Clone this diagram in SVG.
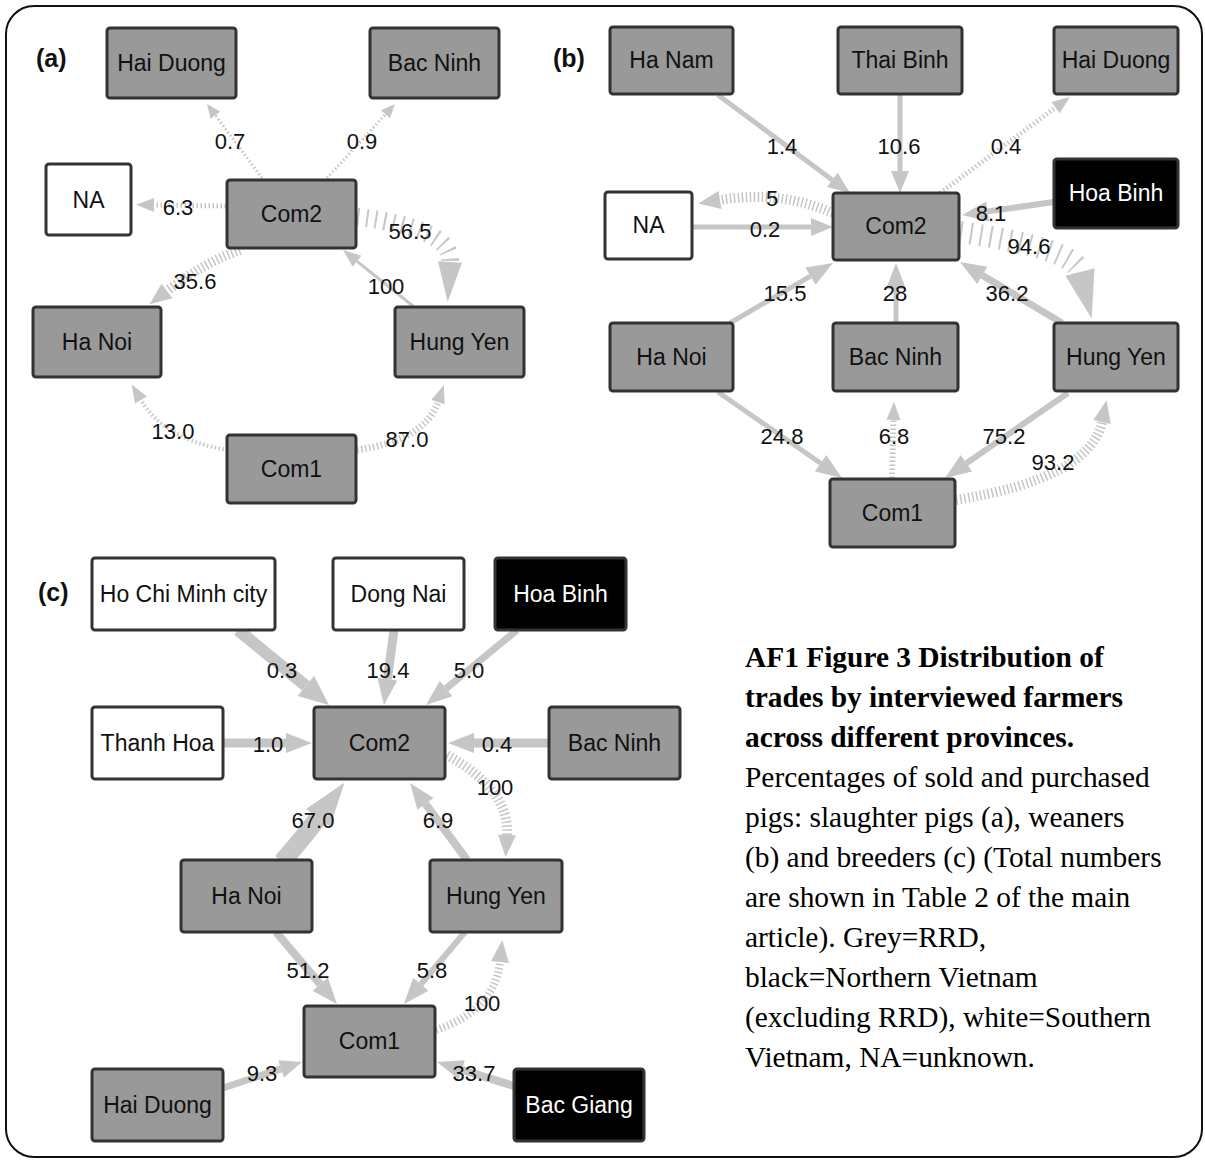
<svg xmlns="http://www.w3.org/2000/svg" width="1205" height="1160" viewBox="0 0 1205 1160">
<style>
.n{stroke:#333;stroke-width:3}
.g{fill:#999}
.w{fill:#fff}
.k{fill:#000}
.t{font-family:"Liberation Sans",Arial,sans-serif;font-size:23px;text-anchor:middle;fill:#111}
.tw{fill:#fff}
.l{font-family:"Liberation Sans",Arial,sans-serif;font-size:22px;text-anchor:middle;fill:#111}
.p{font-family:"Liberation Sans",Arial,sans-serif;font-size:25px;font-weight:bold;fill:#111}
.e{stroke:#c6c6c6;fill:none}
.h{stroke:#c6c6c6;fill:none;stroke-dasharray:1.5 2.5}
.cap{font-family:"Liberation Serif","Times New Roman",serif;font-size:29.4px;fill:#000}
.b{font-weight:bold}
</style>
<defs>
<marker id="m14" markerUnits="userSpaceOnUse" orient="auto" refX="0" refY="0" markerWidth="20" markerHeight="20" overflow="visible"><path d="M0,-6 L14,0 L0,6 Z" fill="#c6c6c6"/></marker>
<marker id="m18" markerUnits="userSpaceOnUse" orient="auto" refX="0" refY="0" markerWidth="20" markerHeight="20" overflow="visible"><path d="M0,-7 L18,0 L0,7 Z" fill="#c6c6c6"/></marker>
<marker id="m22" markerUnits="userSpaceOnUse" orient="auto" refX="0" refY="0" markerWidth="20" markerHeight="20" overflow="visible"><path d="M0,-9 L22,0 L0,9 Z" fill="#c6c6c6"/></marker>
<marker id="m26" markerUnits="userSpaceOnUse" orient="auto" refX="0" refY="0" markerWidth="20" markerHeight="20" overflow="visible"><path d="M0,-10 L26,0 L0,10 Z" fill="#c6c6c6"/></marker>
<marker id="m30" markerUnits="userSpaceOnUse" orient="auto" refX="0" refY="0" markerWidth="20" markerHeight="20" overflow="visible"><path d="M0,-13 L30,0 L0,13 Z" fill="#c6c6c6"/></marker>
<marker id="m40" markerUnits="userSpaceOnUse" orient="auto" refX="0" refY="0" markerWidth="20" markerHeight="20" overflow="visible"><path d="M0,-12 L40,0 L0,12 Z" fill="#c6c6c6"/></marker>
<marker id="m44" markerUnits="userSpaceOnUse" orient="auto" refX="0" refY="0" markerWidth="20" markerHeight="20" overflow="visible"><path d="M0,-15 L44,0 L0,15 Z" fill="#c6c6c6"/></marker>
<marker id="m48" markerUnits="userSpaceOnUse" orient="auto" refX="0" refY="0" markerWidth="20" markerHeight="20" overflow="visible"><path d="M0,-15 L48,0 L0,15 Z" fill="#c6c6c6"/></marker>
</defs>
<rect x="6" y="6" width="1196" height="1151" rx="28" fill="#fff" stroke="#111" stroke-width="2"/>

<g id="connectors">
<!-- panel a -->
<path class="h" stroke-width="3" d="M262,178 L215.4,115.2" marker-end="url(#m14)"/>
<path class="h" stroke-width="3" d="M327,178 L385.5,114.3" marker-end="url(#m14)"/>
<path class="h" stroke-width="5" d="M226,206 L154,205" marker-end="url(#m18)"/>
<path class="h" stroke-width="18" style="stroke-dasharray:2 7" d="M357,217 Q452,228 450,262" marker-end="url(#m40)"/>
<path class="e" stroke-width="3" d="M413,306 L357.1,261.3" marker-end="url(#m18)"/>
<path class="h" stroke-width="10" d="M240,250 Q205,262 167,291" marker-end="url(#m22)"/>
<path class="h" stroke-width="4" d="M228,450 Q165,440 141,400" marker-end="url(#m18)"/>
<path class="h" stroke-width="7" d="M357,450 Q425,440 438,402" marker-end="url(#m18)"/>
<!-- panel b -->
<path class="e" stroke-width="5" d="M718,95 L832.3,179.9" marker-end="url(#m22)"/>
<path class="e" stroke-width="5" d="M900,95 L900,171" marker-end="url(#m22)"/>
<path class="h" stroke-width="5" d="M940,193 L1055.5,107.7" marker-end="url(#m18)"/>
<path class="h" stroke-width="10" d="M833,213 Q780,190 720,200" marker-end="url(#m22)"/>
<path class="e" stroke-width="5" d="M692,227 L811,227" marker-end="url(#m22)"/>
<path class="e" stroke-width="6" d="M1054,202 L987.7,211.4" marker-end="url(#m26)"/>
<path class="h" stroke-width="22" style="stroke-dasharray:2 8" d="M960,232 Q1074,248 1080,272" marker-end="url(#m48)"/>
<path class="e" stroke-width="7" d="M1062,323 L982.3,275.3" marker-end="url(#m26)"/>
<path class="e" stroke-width="5" d="M730,323 L810.5,276.1" marker-end="url(#m26)"/>
<path class="e" stroke-width="5" d="M896,323 L896,289" marker-end="url(#m26)"/>
<path class="e" stroke-width="5" d="M718,392 L820.6,463.2" marker-end="url(#m26)"/>
<path class="h" stroke-width="6" d="M892,478 L893.5,420" marker-end="url(#m18)"/>
<path class="e" stroke-width="6" d="M1068,393 L966.4,463.2" marker-end="url(#m26)"/>
<path class="h" stroke-width="10" d="M956,500 Q1090,478 1102,422" marker-end="url(#m22)"/>
<!-- panel c -->
<path class="e" stroke-width="12" d="M238,630 L305.8,685.9" marker-end="url(#m30)"/>
<path class="e" stroke-width="9" d="M394,630 L387.4,679.2" marker-end="url(#m26)"/>
<path class="e" stroke-width="7" d="M517,630 L446.1,688.5" marker-end="url(#m26)"/>
<path class="e" stroke-width="9" d="M223,743 L286,743" marker-end="url(#m26)"/>
<path class="e" stroke-width="9" d="M549,743 L474,743" marker-end="url(#m26)"/>
<path class="h" stroke-width="10" d="M447,755 Q510,790 507,835" marker-end="url(#m22)"/>
<path class="e" stroke-width="18" d="M282,862 Q303,838 318,818" marker-end="url(#m44)"/>
<path class="e" stroke-width="8" d="M467,860 L425.5,803.9" marker-end="url(#m26)"/>
<path class="e" stroke-width="8" d="M276,932 L320.2,984.2" marker-end="url(#m26)"/>
<path class="e" stroke-width="6" d="M465,932 L420.8,984.2" marker-end="url(#m26)"/>
<path class="h" stroke-width="8" d="M436,1030 Q495,1010 500,962" marker-end="url(#m22)"/>
<path class="e" stroke-width="7" d="M223,1088 L281.1,1068.9" marker-end="url(#m22)"/>
<path class="e" stroke-width="8" d="M514,1086 L461.8,1069.7" marker-end="url(#m26)"/>
</g>

<g id="edge-labels">
<text class="l" x="230" y="149">0.7</text>
<text class="l" x="362" y="149">0.9</text>
<text class="l" x="178" y="215">6.3</text>
<text class="l" x="410" y="239">56.5</text>
<text class="l" x="195" y="289">35.6</text>
<text class="l" x="386" y="294">100</text>
<text class="l" x="173" y="439">13.0</text>
<text class="l" x="407" y="447">87.0</text>

<text class="l" x="782" y="154">1.4</text>
<text class="l" x="899" y="154">10.6</text>
<text class="l" x="1006" y="154">0.4</text>
<text class="l" x="772" y="206">5</text>
<text class="l" x="765" y="237">0.2</text>
<text class="l" x="991" y="221">8.1</text>
<text class="l" x="1029" y="254">94.6</text>
<text class="l" x="785" y="301">15.5</text>
<text class="l" x="895" y="301">28</text>
<text class="l" x="1007" y="301">36.2</text>
<text class="l" x="782" y="444">24.8</text>
<text class="l" x="894" y="444">6.8</text>
<text class="l" x="1004" y="444">75.2</text>
<text class="l" x="1053" y="470">93.2</text>

<text class="l" x="282" y="678">0.3</text>
<text class="l" x="388" y="678">19.4</text>
<text class="l" x="469" y="678">5.0</text>
<text class="l" x="268" y="752">1.0</text>
<text class="l" x="497" y="752">0.4</text>
<text class="l" x="495" y="795">100</text>
<text class="l" x="313" y="828">67.0</text>
<text class="l" x="438" y="828">6.9</text>
<text class="l" x="308" y="978">51.2</text>
<text class="l" x="432" y="978">5.8</text>
<text class="l" x="482" y="1011">100</text>
<text class="l" x="262" y="1081">9.3</text>
<text class="l" x="474" y="1081">33.7</text>
</g>

<text class="p" x="36" y="67">(a)</text>
<text class="p" x="553" y="67">(b)</text>
<text class="p" x="38" y="601">(c)</text>

<!-- panel a nodes -->
<g id="a-hai-duong"><rect class="n g" x="107" y="28" width="129" height="70" rx="3"/><text class="t" x="171.5" y="71">Hai Duong</text></g>
<g id="a-bac-ninh"><rect class="n g" x="370" y="28" width="129" height="70" rx="3"/><text class="t" x="434.5" y="71">Bac Ninh</text></g>
<g id="a-na"><rect class="n w" x="46" y="164" width="85" height="71" rx="3"/><text class="t" x="88.5" y="208">NA</text></g>
<g id="a-com2"><rect class="n g" x="227" y="180" width="129" height="68" rx="3"/><text class="t" x="291.5" y="222">Com2</text></g>
<g id="a-ha-noi"><rect class="n g" x="33" y="307" width="128" height="70" rx="3"/><text class="t" x="97" y="350">Ha Noi</text></g>
<g id="a-hung-yen"><rect class="n g" x="395" y="307" width="129" height="70" rx="3"/><text class="t" x="459.5" y="350">Hung Yen</text></g>
<g id="a-com1"><rect class="n g" x="227" y="435" width="129" height="68" rx="3"/><text class="t" x="291.5" y="477">Com1</text></g>

<!-- panel b nodes -->
<g id="b-ha-nam"><rect class="n g" x="610" y="27" width="123" height="67" rx="3"/><text class="t" x="671.5" y="68">Ha Nam</text></g>
<g id="b-thai-binh"><rect class="n g" x="838" y="27" width="124" height="67" rx="3"/><text class="t" x="900" y="68">Thai Binh</text></g>
<g id="b-hai-duong"><rect class="n g" x="1054" y="27" width="124" height="67" rx="3"/><text class="t" x="1116" y="68">Hai Duong</text></g>
<g id="b-hoa-binh"><rect class="n k" x="1054" y="159" width="124" height="69" rx="3"/><text class="t tw" x="1116" y="201">Hoa Binh</text></g>
<g id="b-na"><rect class="n w" x="605" y="192" width="87" height="67" rx="3"/><text class="t" x="648.5" y="233">NA</text></g>
<g id="b-com2"><rect class="n g" x="833" y="193" width="126" height="67" rx="3"/><text class="t" x="896" y="234">Com2</text></g>
<g id="b-ha-noi"><rect class="n g" x="610" y="323" width="123" height="68" rx="3"/><text class="t" x="671.5" y="365">Ha Noi</text></g>
<g id="b-bac-ninh"><rect class="n g" x="833" y="323" width="125" height="68" rx="3"/><text class="t" x="895.5" y="365">Bac Ninh</text></g>
<g id="b-hung-yen"><rect class="n g" x="1054" y="323" width="124" height="68" rx="3"/><text class="t" x="1116" y="365">Hung Yen</text></g>
<g id="b-com1"><rect class="n g" x="830" y="479" width="125" height="68" rx="3"/><text class="t" x="892.5" y="521">Com1</text></g>

<!-- panel c nodes -->
<g id="c-hcm"><rect class="n w" x="92" y="558" width="183" height="72" rx="3"/><text class="t" x="183.5" y="602">Ho Chi Minh city</text></g>
<g id="c-dong-nai"><rect class="n w" x="333" y="558" width="131" height="72" rx="3"/><text class="t" x="398.5" y="602">Dong Nai</text></g>
<g id="c-hoa-binh"><rect class="n k" x="495" y="558" width="131" height="72" rx="3"/><text class="t tw" x="560.5" y="602">Hoa Binh</text></g>
<g id="c-thanh-hoa"><rect class="n w" x="92" y="707" width="131" height="72" rx="3"/><text class="t" x="157.5" y="751">Thanh Hoa</text></g>
<g id="c-com2"><rect class="n g" x="314" y="707" width="131" height="72" rx="3"/><text class="t" x="379.5" y="751">Com2</text></g>
<g id="c-bac-ninh"><rect class="n g" x="549" y="707" width="131" height="72" rx="3"/><text class="t" x="614.5" y="751">Bac Ninh</text></g>
<g id="c-ha-noi"><rect class="n g" x="181" y="860" width="131" height="72" rx="3"/><text class="t" x="246.5" y="904">Ha Noi</text></g>
<g id="c-hung-yen"><rect class="n g" x="430" y="860" width="132" height="72" rx="3"/><text class="t" x="496" y="904">Hung Yen</text></g>
<g id="c-com1"><rect class="n g" x="304" y="1006" width="131" height="71" rx="3"/><text class="t" x="369.5" y="1049">Com1</text></g>
<g id="c-hai-duong"><rect class="n g" x="92" y="1069" width="131" height="72" rx="3"/><text class="t" x="157.5" y="1113">Hai Duong</text></g>
<g id="c-bac-giang"><rect class="n k" x="514" y="1069" width="130" height="72" rx="3"/><text class="t tw" x="579" y="1113">Bac Giang</text></g>

<g id="caption">
<text class="cap b" x="745" y="667">AF1 Figure 3 Distribution of</text>
<text class="cap b" x="745" y="707">trades by interviewed farmers</text>
<text class="cap b" x="745" y="747">across different provinces.</text>
<text class="cap" x="745" y="787">Percentages of sold and purchased</text>
<text class="cap" x="745" y="827">pigs: slaughter pigs (a), weaners</text>
<text class="cap" x="745" y="867">(b) and breeders (c) (Total numbers</text>
<text class="cap" x="745" y="907">are shown in Table 2 of the main</text>
<text class="cap" x="745" y="947">article). Grey=RRD,</text>
<text class="cap" x="745" y="987">black=Northern Vietnam</text>
<text class="cap" x="745" y="1027">(excluding RRD), white=Southern</text>
<text class="cap" x="745" y="1067">Vietnam, NA=unknown.</text>
</g>
</svg>
